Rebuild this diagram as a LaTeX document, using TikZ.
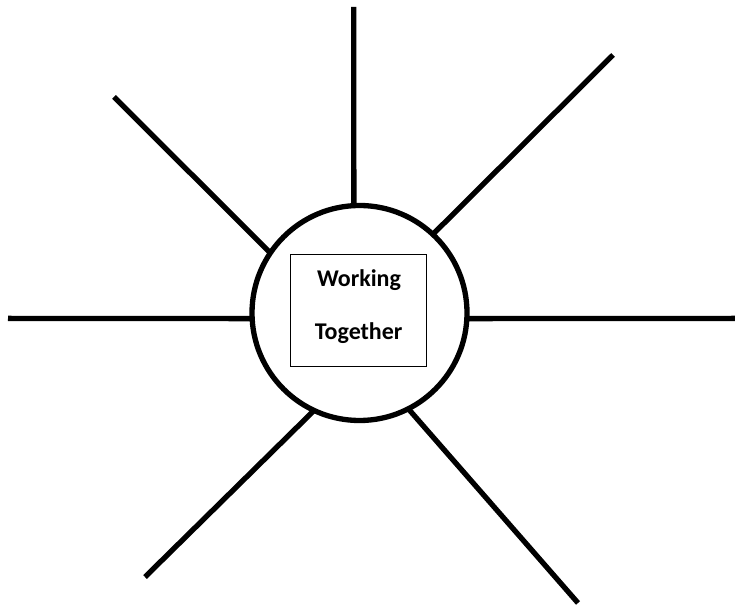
\documentclass[tikz,border=0pt]{standalone}
\usepackage{fontspec}
\setmainfont{Carlito}
\begin{document}
\begin{tikzpicture}[x=1pt,y=1pt,
  spoke/.style={line width=5.3pt, line cap=butt},
  hub/.style={circle, draw, line width=5.3pt, minimum size=215pt, inner sep=0pt, outer sep=0pt},
  frame/.style={draw, line width=1pt, minimum width=136pt, minimum height=112pt, inner sep=0pt},
  label/.style={font=\bfseries\fontsize{24}{28}\selectfont, anchor=base, inner sep=0pt}]
\useasboundingbox (0,0) rectangle (735,610);
\node[hub] (c) at (359.5,297) {};
\node[frame] (box) at (358.7,299) {};
\node[label] (w1) at (359,323.3) {Working};
\node[label] (w2) at (358.7,270) {Together};
\coordinate (pT) at (353.7,603);
\coordinate (pUR) at (613,555);
\coordinate (pR) at (735,291.6);
\coordinate (pLR) at (578,7);
\coordinate (pLL) at (145,33);
\coordinate (pL) at (8,291.6);
\coordinate (pUL) at (114,513);
\draw[spoke] (c.93) -- (pT);
\draw[spoke] (c.47) -- (pUR);
\draw[spoke] (c.-3) -- (pR);
\draw[spoke] (c.-63) -- (pLR);
\draw[spoke] (c.245) -- (pLL);
\draw[spoke] (c.183) -- (pL);
\draw[spoke] (c.146) -- (pUL);
\end{tikzpicture}
\end{document}
